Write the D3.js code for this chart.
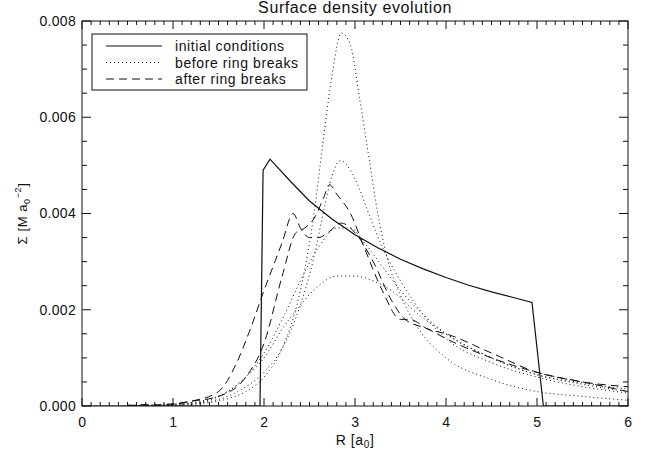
<!DOCTYPE html>
<html><head><meta charset="utf-8">
<script src="https://cdn.jsdelivr.net/npm/d3@7"></script>
<style>body{margin:0;background:#fff}text{font-family:"Liberation Sans","DejaVu Sans",sans-serif;fill:#111}</style>
</head><body><svg id="c" width="646" height="457"></svg>
<script>
const title = "Surface density evolution";
const xTicks = [0,1,2,3,4,5,6];
const yTicks = [0.000,0.002,0.004,0.006,0.008];
const legendLabels = ["initial conditions","before ring breaks","after ring breaks"];

// initial conditions (solid)
const initR = [0,1.956,1.99,2.066,2.3,2.5,2.75,3.0,3.25,3.5,3.75,4.0,4.25,4.5,4.75,4.945,5.07,6];
const initS = [0,0,0.0049,0.00513,0.00465,0.00426,0.00388,0.00356,0.00329,0.00305,0.00285,0.00267,0.00251,0.00237,0.00225,0.00215,0,0];

// before ring breaks (dotted)
const b1R = [0.5,0.8,1.0,1.3,1.6,1.8,2.0,2.2,2.4,2.55,2.65,2.75,2.85,2.95,3.05,3.15,3.25,3.35,3.5,3.7,4.0,4.5,5.0,5.5,6.0];
const b1S = [0.00001,0,0.00002,0.00005,0.00015,0.0003,0.0006,0.0012,0.0024,0.0040,0.0055,0.0069,0.00775,0.0075,0.0064,0.0052,0.0040,0.0031,0.0023,0.0016,0.0010,0.00055,0.0003,0.0002,0.00012];
const b2R = [0.5,0.8,1.0,1.3,1.6,1.8,2.0,2.2,2.4,2.55,2.65,2.75,2.84,2.95,3.05,3.15,3.3,3.5,3.75,4.0,4.5,5.0,5.5,6.0];
const b2S = [0,0.00002,0.00001,0.00006,0.0002,0.0004,0.0007,0.0012,0.0021,0.0031,0.0040,0.0048,0.0051,0.0049,0.0045,0.0040,0.0033,0.0026,0.0019,0.0014,0.0009,0.0006,0.0004,0.00027];
const b3R = [0.5,0.8,1.0,1.3,1.6,1.8,2.0,2.2,2.4,2.6,2.8,2.95,3.1,3.3,3.5,3.75,4.0,4.5,5.0,5.5,6.0];
const b3S = [0.00002,0,0.00003,0.00008,0.0003,0.0006,0.0011,0.0018,0.0026,0.0033,0.0037,0.0037,0.0034,0.0029,0.0024,0.0019,0.0015,0.0010,0.00065,0.00045,0.0003];
const b4R = [0.5,0.8,1.0,1.3,1.6,1.8,2.0,2.2,2.4,2.6,2.8,3.0,3.2,3.4,3.7,4.0,4.5,5.0,5.5,6.0];
const b4S = [0,0.00002,0.00004,0.0001,0.0003,0.0006,0.0010,0.0016,0.0021,0.0025,0.0027,0.0027,0.0026,0.0024,0.0019,0.0015,0.0010,0.00065,0.00048,0.00035];

// after ring breaks (dashed)
const a1R = [0.5,0.7,0.9,1.2,1.5,1.7,1.85,2.0,2.1,2.2,2.32,2.4,2.5,2.6,2.7,2.85,3.0,3.2,3.4,3.55,3.8,4.0,4.5,5.0,5.5,6.0];
const a1S = [0.00002,0,0.00003,0.0001,0.0003,0.0009,0.0016,0.0024,0.0029,0.0034,0.0040,0.0037,0.0035,0.0035,0.0036,0.0038,0.0036,0.0030,0.0022,0.0018,0.0016,0.0014,0.0010,0.0007,0.0005,0.0004];
const a2R = [0.5,0.7,0.9,1.2,1.5,1.8,2.0,2.2,2.35,2.45,2.55,2.65,2.72,2.8,2.95,3.1,3.3,3.5,3.6,3.8,4.0,4.5,5.0,5.5,6.0];
const a2S = [0,0.00003,0.00002,0.0001,0.0002,0.0006,0.0013,0.0027,0.0036,0.0037,0.0039,0.0043,0.0046,0.0044,0.0040,0.0033,0.0024,0.0018,0.0018,0.0016,0.0015,0.0011,0.0007,0.0005,0.0003];

const W=646,H=457, m={l:82,r:18,t:21,b:51};
const svg=d3.select("#c");
const x=d3.scaleLinear().domain([0,6]).range([m.l,W-m.r]);
const y=d3.scaleLinear().domain([0,0.008]).range([H-m.b,m.t]);

const g=svg.append("g");
function ticks(){
  const xMinor=d3.range(0,6.0001,0.1), yMinor=d3.range(0,0.00800001,0.0005);
  xMinor.forEach(v=>{const maj=Math.abs(v-Math.round(v))<1e-6; const L=maj?8:4;
    g.append("line").attr("x1",x(v)).attr("x2",x(v)).attr("y1",y(0)).attr("y2",y(0)-L).attr("stroke","#111");
    g.append("line").attr("x1",x(v)).attr("x2",x(v)).attr("y1",y(0.008)).attr("y2",y(0.008)+L).attr("stroke","#111");});
  yMinor.forEach(v=>{const maj=Math.abs(v/0.002-Math.round(v/0.002))<1e-6; const L=maj?9:5;
    g.append("line").attr("y1",y(v)).attr("y2",y(v)).attr("x1",x(0)).attr("x2",x(0)+L).attr("stroke","#111");
    g.append("line").attr("y1",y(v)).attr("y2",y(v)).attr("x1",x(6)).attr("x2",x(6)-L).attr("stroke","#111");});
}
ticks();
g.append("rect").attr("x",x(0)).attr("y",y(0.008)).attr("width",x(6)-x(0)).attr("height",y(0)-y(0.008)).attr("fill","none").attr("stroke","#111");

const xa=d3.axisBottom(x).tickValues(xTicks).tickSize(0).tickPadding(11).tickFormat(d3.format("d"));
svg.append("g").attr("transform",`translate(0,${y(0)})`).call(xa).call(s=>{s.select(".domain").remove();s.selectAll("text").attr("font-size",14).style("fill","#111").style("letter-spacing","0.5px");});
const ya=d3.axisLeft(y).tickValues(yTicks).tickSize(0).tickPadding(6).tickFormat(d3.format(".3f"));
svg.append("g").attr("transform",`translate(${x(0)},0)`).call(ya).call(s=>{s.select(".domain").remove();s.selectAll("text").attr("font-size",14).style("fill","#111").style("letter-spacing","0.3px");});

svg.append("text").attr("x",(x(0)+x(6))/2).attr("y",13).attr("text-anchor","middle").attr("font-size",16).style("letter-spacing","0.6px").text(title);
const xl=svg.append("text").attr("x",(x(0)+x(6))/2).attr("y",445).attr("text-anchor","middle").attr("font-size",14).style("letter-spacing","0.6px");
xl.append("tspan").text("R [a");xl.append("tspan").attr("font-size",10).attr("dy",3).text("0");xl.append("tspan").attr("dy",-3).text("]");
const yl=svg.append("text").attr("transform",`translate(27,${(y(0)+y(0.008))/2}) rotate(-90)`).attr("text-anchor","middle").attr("font-size",13).style("letter-spacing","0.6px");
yl.append("tspan").text("Σ [M a");yl.append("tspan").attr("font-size",9).attr("dy",3).text("0");yl.append("tspan").attr("font-size",9).attr("dy",-9).text("−2");yl.append("tspan").attr("dy",6).text("]");

const line=d3.line().x(d=>x(d[0])).y(d=>y(d[1]));
svg.append("clipPath").attr("id","cp").append("rect").attr("x",x(0)).attr("y",y(0.008)).attr("width",x(6)-x(0)).attr("height",y(0)-y(0.008));
const pg=svg.append("g").attr("clip-path","url(#cp)");
function draw(R,S,dash){pg.append("path").datum(R.map((r,i)=>[r,S[i]])).attr("d",line.curve(d3.curveMonotoneX)).attr("fill","none").attr("stroke","#111").attr("stroke-width",1).attr("stroke-dasharray",dash);}
const DOT="1,3", DASH="8,5";
[[b1R,b1S],[b2R,b2S],[b3R,b3S],[b4R,b4S]].forEach(s=>draw(s[0],s[1],DOT));
[[a1R,a1S],[a2R,a2S]].forEach(s=>draw(s[0],s[1],DASH));
pg.append("path").datum(initR.map((r,i)=>[r,initS[i]])).attr("d",d3.line().x(d=>x(d[0])).y(d=>y(d[1]))).attr("fill","none").attr("stroke","#111").attr("stroke-width",1.2);

// legend
const lg=svg.append("g");
lg.append("rect").attr("x",92).attr("y",34).attr("width",215).attr("height",56).attr("fill","#fff").attr("stroke","#111");
const dashes=["none",DOT,DASH];
legendLabels.forEach((t,i)=>{const yy=46+i*16.5;
  lg.append("line").attr("x1",106).attr("x2",162).attr("y1",yy).attr("y2",yy).attr("stroke","#111").attr("stroke-dasharray",dashes[i]);
  lg.append("text").attr("x",175).attr("y",yy+5).attr("font-size",14).style("letter-spacing","0.6px").text(t);});
</script></body></html>
